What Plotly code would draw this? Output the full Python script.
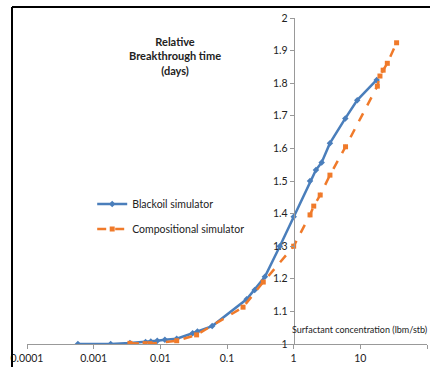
import plotly.graph_objects as go

# Data
blackoil_x = [0.00058, 0.0018, 0.0035, 0.006, 0.0072, 0.009, 0.0117, 0.0176, 0.0305, 0.036,
              0.06, 0.197, 0.26, 0.37, 0.62, 1.0, 1.76, 2.16, 2.63, 3.5, 5.95, 9.0, 17.6]
blackoil_y = [1.000, 1.000, 1.003, 1.006, 1.008, 1.010, 1.013, 1.016, 1.033, 1.038,
              1.055, 1.137, 1.166, 1.206, 1.300, 1.390, 1.500, 1.534, 1.557, 1.616, 1.692, 1.748, 1.810]

comp_x = [0.0035, 0.0059, 0.007, 0.0176, 0.035, 0.174, 0.35, 1.0, 1.76, 2.0, 2.5, 3.5, 6.0,
          18, 19.7, 22, 25.4, 35]
comp_y = [1.002, 1.001, 1.001, 1.010, 1.028, 1.113, 1.190, 1.300, 1.396, 1.423, 1.457, 1.518, 1.605,
          1.791, 1.822, 1.840, 1.861, 1.924]

x_tickvals = [0.0001, 0.001, 0.01, 0.1, 1, 10, 100]
x_ticktext = ["0.0001", "0.001", "0.01", "0.1", "1", "10", "100"]

FONT = "Lato, Liberation Sans, sans-serif"

fig = go.Figure()
fig.add_trace(go.Scatter(
    x=blackoil_x, y=blackoil_y, mode="lines+markers", name="Blackoil simulator",
    legendgroup="a",
    line=dict(color="#4A7EBB", width=2.5),
    marker=dict(symbol="diamond", size=5, color="#4A7EBB"),
))
fig.add_trace(go.Scatter(
    x=comp_x, y=comp_y, mode="lines+markers", name="Compositional simulator",
    legendgroup="b",
    line=dict(color="#F07A2A", width=2.5, dash="dash"),
    marker=dict(symbol="square", size=5, color="#F07A2A"),
))

fig.update_layout(
    width=430, height=367,
    margin=dict(l=27, r=3, t=18, b=23),
    paper_bgcolor="white", plot_bgcolor="white",
    font=dict(family=FONT, size=10.5, color="#222"),
    showlegend=True,
    legend=dict(x=0.163, y=0.474, xanchor="left", yanchor="top",
                bgcolor="rgba(0,0,0,0)", tracegroupgap=6,
                font=dict(family=FONT, size=10.5, color="#222")),
    xaxis=dict(type="log", range=[-4, 2], tickvals=x_tickvals, ticktext=x_ticktext,
               showgrid=False, zeroline=False, showline=True, linecolor="#999", linewidth=1,
               ticks="outside", ticklen=4, tickcolor="#999",
               tickfont=dict(family=FONT, size=10.5, color="#222")),
    yaxis=dict(range=[1, 2], dtick=0.1, tick0=1, anchor="free", position=4/6,
               showgrid=False, zeroline=False, showline=True, linecolor="#999", linewidth=1,
               ticks="outside", ticklen=4, tickcolor="#999",
               tickfont=dict(family=FONT, size=10.5, color="#222")),
    annotations=[
        dict(text="<b>Relative<br>Breakthrough time<br>(days)</b>", xref="paper", yref="paper",
             x=0.37, y=0.883, xanchor="center", yanchor="middle", showarrow=False,
             font=dict(family=FONT, size=11, color="#222")),
        dict(text="Surfactant concentration (lbm/stb)", xref="paper", yref="paper",
             x=0.658, y=0.043, xanchor="left", yanchor="middle", showarrow=False,
             font=dict(family=FONT, size=9, color="#222")),
    ],
    shapes=[
        dict(type="line", xref="paper", yref="paper", x0=-0.0375, x1=1.01, y0=1.0337, y1=1.0337,
             line=dict(color="black", width=2)),
        dict(type="line", xref="paper", yref="paper", x0=-0.0375, x1=-0.0375, y0=1.0337, y1=-0.08,
             line=dict(color="black", width=2)),
    ],
)

fig.write_html("out.html")
